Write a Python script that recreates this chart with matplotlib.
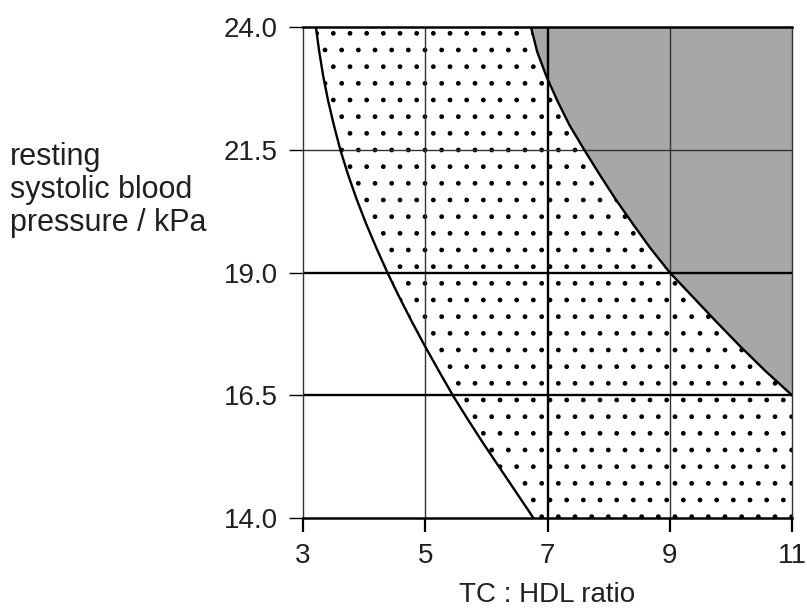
import matplotlib
matplotlib.use('Agg')
import matplotlib.pyplot as plt
import numpy as np

# boundary curves (TC:HDL ratio vs blood pressure / kPa)
left_y = [24.0, 23.5, 23.0, 22.5, 22.0, 21.5, 21.0, 20.5, 20.0, 19.5, 19.0,
          18.5, 18.0, 17.5, 17.0, 16.5, 16.0, 15.5, 15.0, 14.5, 14.0]
left_x = [3.21, 3.265, 3.33, 3.41, 3.505, 3.61, 3.735, 3.875, 4.03, 4.20, 4.38,
          4.575, 4.78, 4.995, 5.22, 5.45, 5.70, 5.96, 6.23, 6.50, 6.77]

right_y = [24.0, 23.5, 23.0, 22.5, 22.0, 21.5, 21.0, 20.5, 20.0, 19.5, 19.0,
           18.5, 18.0, 17.5, 17.0, 16.5]
right_x = [6.73, 6.83, 6.98, 7.16, 7.36, 7.60, 7.85, 8.11, 8.39, 8.68, 9.00,
           9.38, 9.76, 10.15, 10.56, 11.0]

x_ticks = [3, 5, 7, 9, 11]
y_ticks = [14.0, 16.5, 19.0, 21.5, 24.0]
thick_x = [7]
thick_y = [16.5, 19.0]

TXT = '#231f20'


def main():
    plt.rcParams['font.family'] = ['Liberation Sans', 'DejaVu Sans']
    plt.rcParams['hatch.linewidth'] = 1.0

    fig = plt.figure(figsize=(8.07, 6.11), dpi=100)
    ax = fig.add_axes([0.3755, 0.1522, 0.6059, 0.8036])

    xmin, xmax = x_ticks[0], x_ticks[-1]
    ymin, ymax = y_ticks[0], y_ticks[-1]
    ax.set_xlim(xmin, xmax)
    ax.set_ylim(ymin, ymax)

    # grey zone right of the upper curve
    ax.fill_betweenx(right_y, right_x, xmax, color='#a7a7a7', lw=0, zorder=1)

    # stippled zone between the two curves
    px = list(left_x) + [xmax, xmax] + list(right_x[::-1])
    py = list(left_y) + [ymin, right_y[-1]] + list(right_y[::-1])
    ax.fill(px, py, facecolor='none', edgecolor='black', hatch='.', lw=0, zorder=1)

    # grid, some lines heavier
    for xv in x_ticks[1:-1]:
        thick = xv in thick_x
        ax.axvline(xv, color='black' if thick else '#333333', lw=1.7 if thick else 1.0, zorder=2)
    for yv in y_ticks[1:-1]:
        thick = yv in thick_y
        ax.axhline(yv, color='black' if thick else '#333333', lw=1.7 if thick else 1.0, zorder=2)

    ax.plot(left_x, left_y, color='black', lw=1.7, zorder=3)
    ax.plot(right_x, right_y, color='black', lw=1.7, zorder=3)

    for side in ['top', 'bottom']:
        ax.spines[side].set_linewidth(1.8)
    for side in ['left', 'right']:
        ax.spines[side].set_linewidth(1.0)
        ax.spines[side].set_color('#333333')

    ax.set_xticks(x_ticks)
    ax.set_xticklabels([str(v) for v in x_ticks])
    ax.set_yticks(y_ticks)
    ax.set_yticklabels([f'{v:.1f}' for v in y_ticks])
    ax.tick_params(axis='x', direction='out', length=10, width=1.6, pad=8, labelsize=20, labelcolor=TXT)
    ax.tick_params(axis='y', direction='out', length=10, width=1.0, pad=8, labelsize=20, labelcolor=TXT)

    fig.text(0.0124, 0.689, 'resting\nsystolic blood\npressure / kPa', ha='left', va='center',
             fontsize=22, color=TXT, linespacing=1.12)
    fig.text(0.6785, 0.026, 'TC : HDL ratio', ha='center', va='center', fontsize=20, color=TXT)

    fig.savefig('out.png', dpi=100)


if __name__ == '__main__':
    main()
